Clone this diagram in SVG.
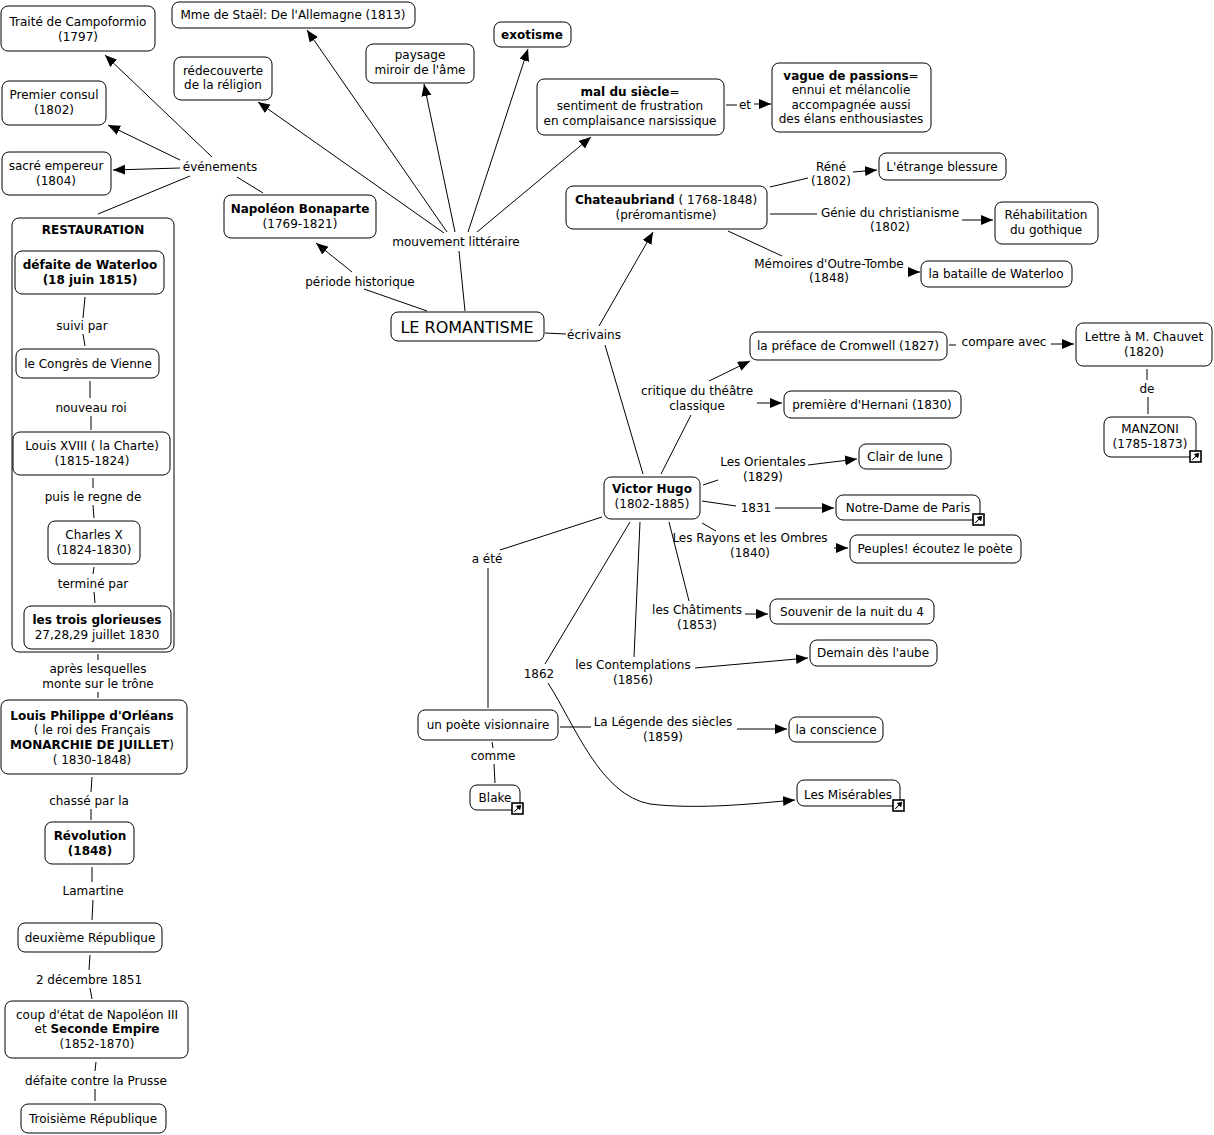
<svg xmlns="http://www.w3.org/2000/svg" width="1214" height="1135" viewBox="0 0 1214 1135">
<style>
text{font-family:"DejaVu Sans",Verdana,"Liberation Sans",sans-serif;font-size:12px;text-anchor:middle;fill:#000}
.b{font-weight:bold}
.big{font-size:16px}
.node rect.box{fill:#fff;stroke:#000;stroke-width:1}
#connectors line,#connectors path{stroke:#000;stroke-width:1;fill:none}
</style>
<defs>
<marker id="ah" markerUnits="userSpaceOnUse" markerWidth="14" markerHeight="12" refX="12" refY="5" orient="auto">
<path d="M0,0 L12,5 L0,10 z" fill="#000"/>
</marker>
<g id="link"><rect x="1" y="1" width="11" height="11" fill="#fff" stroke="#000" stroke-width="1.6"/><path d="M3.5,9.8 L7.2,6.1 L5.4,4.3 L9.8,3.3 L8.8,7.7 L7,5.9 L3.3,9.6 z" fill="#000" stroke="#000" stroke-width="0.8"/></g>
</defs>
<rect width="1214" height="1135" fill="#fff"/>

<g id="restauration" class="node"><rect class="box" x="12" y="218" width="162" height="434" rx="7"/><text x="93" y="234" class="b">RESTAURATION</text></g>

<g id="connectors">
<line x1="212" y1="157" x2="105" y2="55" marker-end="url(#ah)"/>
<line x1="180" y1="160" x2="108" y2="125" marker-end="url(#ah)"/>
<line x1="180" y1="168" x2="113" y2="170" marker-end="url(#ah)"/>
<line x1="190" y1="176" x2="98" y2="214"/>
<line x1="263" y1="193" x2="237" y2="177"/>
<line x1="427" y1="311" x2="364" y2="289"/>
<line x1="352" y1="272" x2="316" y2="243" marker-end="url(#ah)"/>
<line x1="465" y1="311" x2="459" y2="251"/>
<line x1="447" y1="232" x2="307" y2="30" marker-end="url(#ah)"/>
<line x1="444" y1="233" x2="258" y2="102" marker-end="url(#ah)"/>
<line x1="455" y1="232" x2="424" y2="84" marker-end="url(#ah)"/>
<line x1="468" y1="232" x2="528" y2="49" marker-end="url(#ah)"/>
<line x1="477" y1="232" x2="591" y2="137" marker-end="url(#ah)"/>
<line x1="726" y1="105" x2="737" y2="105"/>
<line x1="754" y1="104" x2="771" y2="104" marker-end="url(#ah)"/>
<line x1="545" y1="333" x2="566" y2="334"/>
<line x1="599" y1="326" x2="653" y2="232" marker-end="url(#ah)"/>
<line x1="605" y1="345" x2="643" y2="474"/>
<line x1="770" y1="187" x2="808" y2="178"/>
<line x1="853" y1="172" x2="877" y2="170" marker-end="url(#ah)"/>
<line x1="770" y1="214" x2="817" y2="214"/>
<line x1="962" y1="220" x2="993" y2="220" marker-end="url(#ah)"/>
<line x1="728" y1="231" x2="782" y2="256"/>
<line x1="910" y1="272" x2="920" y2="272" marker-end="url(#ah)"/>
<line x1="661" y1="474" x2="691" y2="415"/>
<line x1="709" y1="381" x2="750" y2="361" marker-end="url(#ah)"/>
<line x1="757" y1="403" x2="782" y2="403" marker-end="url(#ah)"/>
<line x1="949" y1="345" x2="956" y2="345"/>
<line x1="1051" y1="344" x2="1074" y2="344" marker-end="url(#ah)"/>
<line x1="1147" y1="369" x2="1147" y2="380"/>
<line x1="1148" y1="397" x2="1148" y2="414"/>
<line x1="703" y1="485" x2="718" y2="480"/>
<line x1="808" y1="465" x2="857" y2="459" marker-end="url(#ah)"/>
<line x1="702" y1="501" x2="736" y2="506"/>
<line x1="775" y1="508" x2="834" y2="508" marker-end="url(#ah)"/>
<line x1="702" y1="523" x2="716" y2="531"/>
<line x1="834" y1="548" x2="848" y2="548" marker-end="url(#ah)"/>
<line x1="669" y1="522" x2="689" y2="601"/>
<line x1="745" y1="614" x2="768" y2="614" marker-end="url(#ah)"/>
<line x1="640" y1="522" x2="634" y2="657"/>
<line x1="695" y1="668" x2="808" y2="658" marker-end="url(#ah)"/>
<line x1="630" y1="522" x2="545" y2="664"/>
<path d="M548,683 C575,725 600,795 650,804 C700,810 760,803 795,800" marker-end="url(#ah)"/>
<line x1="602" y1="517" x2="500" y2="550"/>
<line x1="488" y1="568" x2="488" y2="708"/>
<line x1="560" y1="727" x2="591" y2="727"/>
<line x1="737" y1="729" x2="787" y2="729" marker-end="url(#ah)"/>
<line x1="492" y1="742" x2="493" y2="748"/>
<line x1="494" y1="764" x2="495" y2="783"/>
<line x1="85" y1="297" x2="83" y2="318"/>
<line x1="83" y1="334" x2="85" y2="346"/>
<line x1="90" y1="381" x2="90" y2="398"/>
<line x1="91" y1="416" x2="91" y2="430"/>
<line x1="93" y1="478" x2="93" y2="488"/>
<line x1="93" y1="505" x2="94" y2="518"/>
<line x1="94" y1="567" x2="93" y2="574"/>
<line x1="94" y1="592" x2="95" y2="603"/>
<line x1="98" y1="654" x2="98" y2="660"/>
<line x1="98" y1="692" x2="98" y2="698"/>
<line x1="92" y1="777" x2="91" y2="792"/>
<line x1="91" y1="809" x2="91" y2="820"/>
<line x1="92" y1="867" x2="92" y2="882"/>
<line x1="93" y1="900" x2="92" y2="920"/>
<line x1="90" y1="955" x2="89" y2="970"/>
<line x1="90" y1="988" x2="92" y2="999"/>
<line x1="96" y1="1062" x2="95" y2="1071"/>
<line x1="95" y1="1089" x2="95" y2="1101"/>
</g>

<g id="labels">
<text x="220" y="171">événements</text>
<text x="360" y="286">période historique</text>
<text x="456" y="246">mouvement littéraire</text>
<text x="594" y="339">écrivains</text>
<text x="745" y="109">et</text>
<text x="831" y="171">Réné</text><text x="831" y="185">(1802)</text>
<text x="890" y="217">Génie du christianisme</text><text x="890" y="231">(1802)</text>
<text x="829" y="268">Mémoires d'Outre-Tombe</text><text x="829" y="282">(1848)</text>
<text x="1004" y="346">compare avec</text>
<text x="1147" y="393">de</text>
<text x="697" y="395">critique du théâtre</text><text x="697" y="410">classique</text>
<text x="763" y="466">Les Orientales</text><text x="763" y="481">(1829)</text>
<text x="756" y="512">1831</text>
<text x="750" y="542">Les Rayons et les Ombres</text><text x="750" y="557">(1840)</text>
<text x="697" y="614">les Châtiments</text><text x="697" y="629">(1853)</text>
<text x="633" y="669">les Contemplations</text><text x="633" y="684">(1856)</text>
<text x="487" y="563">a été</text>
<text x="539" y="678">1862</text>
<text x="663" y="726">La Légende des siècles</text><text x="663" y="741">(1859)</text>
<text x="493" y="760">comme</text>
<text x="82" y="330">suivi par</text>
<text x="91" y="412">nouveau roi</text>
<text x="93" y="501">puis le regne de</text>
<text x="93" y="588">terminé par</text>
<text x="98" y="673">après lesquelles</text><text x="98" y="688">monte sur le trône</text>
<text x="89" y="805">chassé par la</text>
<text x="93" y="895">Lamartine</text>
<text x="89" y="984">2 décembre 1851</text>
<text x="96" y="1085">défaite contre la Prusse</text>
</g>

<g id="traite" class="node"><rect class="box" x="1" y="6" width="154" height="45" rx="7"/><text x="78" y="26">Traité de Campoformio</text><text x="78" y="41">(1797)</text></g>
<g id="stael" class="node"><rect class="box" x="172" y="2" width="243" height="26" rx="7"/><text x="293" y="19">Mme de Staël: De l'Allemagne (1813)</text></g>
<g id="consul" class="node"><rect class="box" x="2" y="81" width="104" height="44" rx="7"/><text x="54" y="99">Premier consul</text><text x="54" y="114">(1802)</text></g>
<g id="redecouverte" class="node"><rect class="box" x="174" y="57" width="98" height="43" rx="7"/><text x="223" y="75">rédecouverte</text><text x="223" y="89">de la réligion</text></g>
<g id="paysage" class="node"><rect class="box" x="366" y="44" width="108" height="39" rx="7"/><text x="420" y="59">paysage</text><text x="420" y="74">miroir de l'âme</text></g>
<g id="exotisme" class="node"><rect class="box" x="494" y="22" width="77" height="25" rx="7"/><text x="532" y="39" class="b">exotisme</text></g>
<g id="mal" class="node"><rect class="box" x="537" y="79" width="187" height="56" rx="7"/><text x="630" y="96"><tspan class="b">mal du siècle</tspan>=</text><text x="630" y="110">sentiment de frustration</text><text x="630" y="125">en complaisance narsissique</text></g>
<g id="vague" class="node"><rect class="box" x="772" y="63" width="159" height="69" rx="7"/><text x="851" y="80"><tspan class="b">vague de passions</tspan>=</text><text x="851" y="94">ennui et mélancolie</text><text x="851" y="109">accompagnée aussi</text><text x="851" y="123">des élans enthousiastes</text></g>
<g id="sacre" class="node"><rect class="box" x="2" y="152" width="109" height="43" rx="7"/><text x="56" y="170">sacré empereur</text><text x="56" y="185">(1804)</text></g>
<g id="napoleon" class="node"><rect class="box" x="224" y="195" width="152" height="43" rx="7"/><text x="300" y="213" class="b">Napoléon Bonaparte</text><text x="300" y="228">(1769-1821)</text></g>
<g id="waterloo" class="node"><rect class="box" x="15" y="251" width="149" height="43" rx="7"/><text x="90" y="269" class="b">défaite de Waterloo</text><text x="90" y="284" class="b">(18 juin 1815)</text></g>
<g id="congres" class="node"><rect class="box" x="16" y="349" width="143" height="29" rx="7"/><text x="88" y="368">le Congrès de Vienne</text></g>
<g id="louis18" class="node"><rect class="box" x="13" y="432" width="157" height="43" rx="7"/><text x="92" y="450">Louis XVIII ( la Charte)</text><text x="92" y="465">(1815-1824)</text></g>
<g id="charlesx" class="node"><rect class="box" x="48" y="521" width="92" height="43" rx="7"/><text x="94" y="539">Charles X</text><text x="94" y="554">(1824-1830)</text></g>
<g id="glorieuses" class="node"><rect class="box" x="24" y="606" width="147" height="43" rx="7"/><text x="97" y="624" class="b">les trois glorieuses</text><text x="97" y="639">27,28,29 juillet 1830</text></g>
<g id="louisphilippe" class="node"><rect class="box" x="1" y="700" width="186" height="74" rx="7"/><text x="92" y="720" class="b">Louis Philippe d'Orléans</text><text x="92" y="734">( le roi des Français</text><text x="92" y="749"><tspan class="b">MONARCHIE DE JUILLET</tspan>)</text><text x="92" y="764">( 1830-1848)</text></g>
<g id="revolution" class="node"><rect class="box" x="45" y="822" width="89" height="42" rx="7"/><text x="90" y="840" class="b">Révolution</text><text x="90" y="855" class="b">(1848)</text></g>
<g id="deuxieme" class="node"><rect class="box" x="18" y="923" width="144" height="29" rx="7"/><text x="90" y="942">deuxième République</text></g>
<g id="coup" class="node"><rect class="box" x="5" y="1001" width="183" height="57" rx="7"/><text x="97" y="1019">coup d'état de Napoléon III</text><text x="97" y="1033">et <tspan class="b">Seconde Empire</tspan></text><text x="97" y="1048">(1852-1870)</text></g>
<g id="troisieme" class="node"><rect class="box" x="21" y="1104" width="145" height="29" rx="7"/><text x="93" y="1123">Troisième République</text></g>
<g id="romantisme" class="node"><rect class="box" x="391" y="312" width="153" height="29" rx="7"/><text x="467" y="333" class="big">LE ROMANTISME</text></g>
<g id="chateaubriand" class="node"><rect class="box" x="566" y="186" width="201" height="43" rx="7"/><text x="666" y="204"><tspan class="b">Chateaubriand</tspan> ( 1768-1848)</text><text x="666" y="219">(préromantisme)</text></g>
<g id="etrange" class="node"><rect class="box" x="879" y="153" width="127" height="27" rx="7"/><text x="942" y="171">L'étrange blessure</text></g>
<g id="rehab" class="node"><rect class="box" x="995" y="202" width="103" height="42" rx="7"/><text x="1046" y="219">Réhabilitation</text><text x="1046" y="234">du gothique</text></g>
<g id="bataille" class="node"><rect class="box" x="921" y="261" width="151" height="26" rx="7"/><text x="996" y="278">la bataille de Waterloo</text></g>
<g id="preface" class="node"><rect class="box" x="750" y="332" width="197" height="28" rx="7"/><text x="848" y="350">la préface de Cromwell (1827)</text></g>
<g id="lettre" class="node"><rect class="box" x="1076" y="323" width="136" height="43" rx="7"/><text x="1144" y="341">Lettre à M. Chauvet</text><text x="1144" y="356">(1820)</text></g>
<g id="manzoni" class="node"><rect class="box" x="1104" y="417" width="92" height="40" rx="7"/><text x="1150" y="433">MANZONI</text><text x="1150" y="448">(1785-1873)</text><use href="#link" x="1189" y="450"/></g>
<g id="hernani" class="node"><rect class="box" x="784" y="391" width="177" height="27" rx="7"/><text x="872" y="409">première d'Hernani (1830)</text></g>
<g id="hugo" class="node"><rect class="box" x="604" y="477" width="96" height="42" rx="7"/><text x="652" y="493" class="b">Victor Hugo</text><text x="652" y="508">(1802-1885)</text></g>
<g id="clair" class="node"><rect class="box" x="859" y="444" width="92" height="25" rx="7"/><text x="905" y="461">Clair de lune</text></g>
<g id="notredame" class="node"><rect class="box" x="836" y="495" width="144" height="25" rx="7"/><text x="908" y="512">Notre-Dame de Paris</text><use href="#link" x="972" y="513"/></g>
<g id="peuples" class="node"><rect class="box" x="850" y="535" width="171" height="28" rx="7"/><text x="935" y="553">Peuples! écoutez le poète</text></g>
<g id="souvenir" class="node"><rect class="box" x="770" y="599" width="164" height="25" rx="7"/><text x="852" y="616">Souvenir de la nuit du 4</text></g>
<g id="demain" class="node"><rect class="box" x="810" y="640" width="127" height="26" rx="7"/><text x="873" y="657">Demain dès l'aube</text></g>
<g id="poete" class="node"><rect class="box" x="418" y="710" width="140" height="30" rx="7"/><text x="488" y="729">un poète visionnaire</text></g>
<g id="conscience" class="node"><rect class="box" x="789" y="717" width="94" height="25" rx="7"/><text x="836" y="734">la conscience</text></g>
<g id="blake" class="node"><rect class="box" x="470" y="785" width="50" height="25" rx="7"/><text x="495" y="802">Blake</text><use href="#link" x="511" y="802"/></g>
<g id="miserables" class="node"><rect class="box" x="797" y="780" width="103" height="26" rx="7"/><text x="848" y="799">Les Misérables</text><use href="#link" x="892" y="799"/></g>
</svg>
